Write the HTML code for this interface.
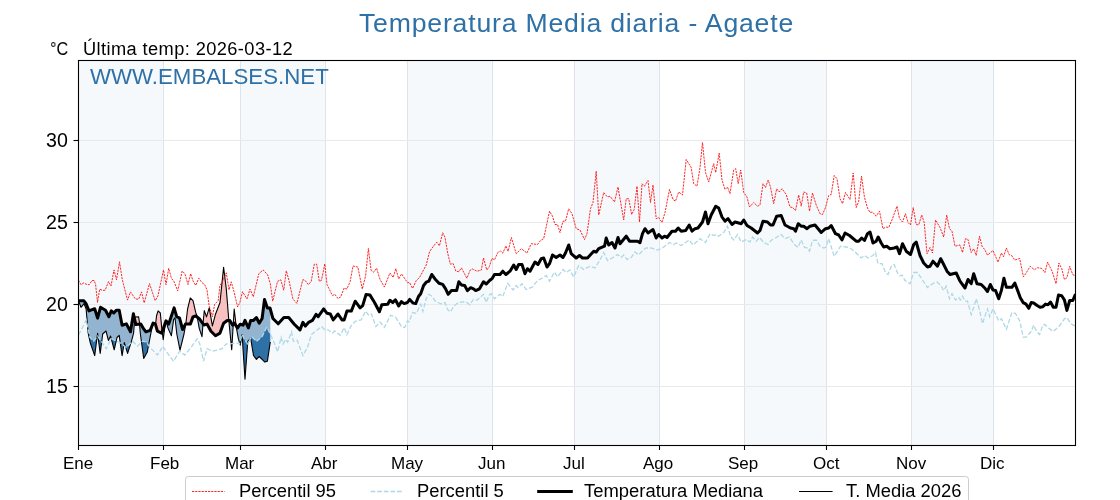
<!DOCTYPE html>
<html><head><meta charset="utf-8"><title>Temperatura Media diaria - Agaete</title>
<style>
html,body{margin:0;padding:0;background:#fff;}
body{width:1120px;height:500px;position:relative;overflow:hidden;font-family:"Liberation Sans",sans-serif;color:#000;}
.t{position:absolute;white-space:nowrap;line-height:1;transform-origin:0 50%;will-change:transform;}
.c{transform:translateX(-50%);}
.r{transform:translateX(-100%);}
</style></head><body>
<svg width="1120" height="500" viewBox="0 0 1120 500" style="position:absolute;left:0;top:0">
<rect x="0" y="0" width="1120" height="500" fill="#fff"/>
<rect x="78.5" y="60.5" width="84.9" height="385.0" fill="#f5f9fc"/>
<rect x="240.1" y="60.5" width="84.9" height="385.0" fill="#f5f9fc"/>
<rect x="407.2" y="60.5" width="84.9" height="385.0" fill="#f5f9fc"/>
<rect x="574.3" y="60.5" width="84.9" height="385.0" fill="#f5f9fc"/>
<rect x="744.1" y="60.5" width="82.2" height="385.0" fill="#f5f9fc"/>
<rect x="911.2" y="60.5" width="82.2" height="385.0" fill="#f5f9fc"/>
<line x1="163.5" y1="60.5" x2="163.5" y2="445.5" stroke="#dfe4eb" stroke-width="1"/>
<line x1="240.5" y1="60.5" x2="240.5" y2="445.5" stroke="#dfe4eb" stroke-width="1"/>
<line x1="325.5" y1="60.5" x2="325.5" y2="445.5" stroke="#dfe4eb" stroke-width="1"/>
<line x1="407.5" y1="60.5" x2="407.5" y2="445.5" stroke="#dfe4eb" stroke-width="1"/>
<line x1="492.5" y1="60.5" x2="492.5" y2="445.5" stroke="#dfe4eb" stroke-width="1"/>
<line x1="574.5" y1="60.5" x2="574.5" y2="445.5" stroke="#dfe4eb" stroke-width="1"/>
<line x1="659.5" y1="60.5" x2="659.5" y2="445.5" stroke="#dfe4eb" stroke-width="1"/>
<line x1="744.5" y1="60.5" x2="744.5" y2="445.5" stroke="#dfe4eb" stroke-width="1"/>
<line x1="826.5" y1="60.5" x2="826.5" y2="445.5" stroke="#dfe4eb" stroke-width="1"/>
<line x1="911.5" y1="60.5" x2="911.5" y2="445.5" stroke="#dfe4eb" stroke-width="1"/>
<line x1="993.5" y1="60.5" x2="993.5" y2="445.5" stroke="#dfe4eb" stroke-width="1"/>
<line x1="78.5" y1="140.5" x2="1075.5" y2="140.5" stroke="#e9e9ec" stroke-width="1"/>
<line x1="78.5" y1="222.5" x2="1075.5" y2="222.5" stroke="#e9e9ec" stroke-width="1"/>
<line x1="78.5" y1="304.5" x2="1075.5" y2="304.5" stroke="#e9e9ec" stroke-width="1"/>
<line x1="78.5" y1="386.5" x2="1075.5" y2="386.5" stroke="#e9e9ec" stroke-width="1"/>
<clipPath id="c"><rect x="78.5" y="60.5" width="997.0" height="385.0"/></clipPath>
<g clip-path="url(#c)">
<polygon points="78.5,300.8 79.0,300.8 79.5,300.8 80.0,300.8 80.5,300.8 81.0,300.8 81.5,300.8 82.0,300.8 82.5,300.8 83.0,300.8 83.5,300.8 83.9,300.8 84.0,300.9 84.5,301.6 85.0,302.2 85.5,302.9 86.0,303.6 86.1,303.7 86.2,303.9 86.5,304.7 87.0,305.9 87.5,307.2 88.0,308.4 88.2,308.9 88.5,309.7 89.0,310.9 89.5,310.7 90.0,310.5 90.4,310.4 90.5,310.3 91.0,310.1 91.5,309.9 92.0,309.7 92.5,309.5 93.0,309.4 93.5,309.2 93.7,309.1 94.0,309.0 94.5,308.8 94.7,308.7 95.0,309.7 95.5,311.3 96.0,312.9 96.5,314.5 97.0,316.2 97.5,317.8 97.6,318.1 98.0,316.6 98.5,314.7 99.0,312.9 99.5,311.0 100.0,309.2 100.2,308.4 100.5,307.3 101.0,307.6 101.2,307.7 101.5,307.9 102.0,308.2 102.5,308.5 102.7,308.6 103.0,308.8 103.5,309.0 104.0,309.3 104.5,309.6 105.0,309.9 105.5,310.2 106.0,311.2 106.2,311.5 106.5,312.1 107.0,313.1 107.5,314.0 108.0,315.0 108.4,315.7 108.5,315.9 108.9,316.7 109.0,316.5 109.5,315.2 110.0,314.0 110.5,312.8 110.6,312.6 111.0,311.6 111.2,311.1 111.3,310.9 111.5,311.1 112.0,311.5 112.5,311.9 113.0,312.3 113.5,312.7 113.8,313.0 114.0,312.8 114.2,312.6 114.5,312.2 115.0,311.7 115.5,311.1 116.0,310.5 116.2,310.3 116.3,310.2 116.5,310.2 117.0,310.2 117.5,310.2 118.0,310.2 118.5,310.2 119.0,310.2 119.2,310.2 119.5,311.8 120.0,314.4 120.5,317.0 121.0,319.6 121.5,322.2 122.0,324.8 122.1,325.3 122.5,325.2 123.0,325.0 123.5,324.8 124.0,324.7 124.3,324.6 124.5,324.5 125.0,324.4 125.5,324.2 126.0,324.0 126.2,324.0 126.4,323.9 126.5,324.1 127.0,325.1 127.5,326.0 127.6,326.2 128.0,327.0 128.5,327.9 129.0,328.9 129.5,329.9 130.0,330.8 130.5,331.8 131.0,328.7 131.5,325.6 132.0,322.5 132.5,319.4 133.0,316.3 133.4,313.8 133.5,314.2 133.6,314.7 134.0,316.5 134.5,318.8 134.8,317.0 135.0,317.0 135.5,317.0 135.8,316.9 136.0,316.9 136.5,316.9 137.0,316.9 137.5,316.9 138.0,316.8 138.5,316.8 138.6,316.8 139.0,319.4 139.4,322.0 139.5,323.2 140.0,324.0 140.3,324.0 140.5,323.9 140.8,323.9 141.0,324.2 141.5,325.1 142.0,326.0 142.5,326.8 143.0,327.7 143.5,328.6 143.7,328.9 144.0,329.3 144.5,330.0 145.0,330.6 145.5,331.3 145.9,331.8 146.0,331.8 146.2,331.7 146.5,331.6 147.0,331.4 147.3,331.3 147.5,331.2 148.0,331.1 148.5,330.9 149.0,330.7 149.5,330.5 150.0,330.4 150.2,330.3 150.5,329.6 150.9,328.6 151.0,328.3 151.5,327.1 152.0,325.8 152.4,324.8 152.5,324.6 153.0,323.3 153.1,323.1 153.5,323.2 154.0,323.4 154.5,323.6 155.0,323.8 155.3,323.9 155.5,324.0 155.6,324.0 156.0,320.6 156.5,316.3 156.6,315.5 157.0,314.3 157.4,313.0 157.5,312.7 158.0,311.2 158.1,310.9 158.5,311.3 159.0,311.8 159.5,312.2 160.0,312.7 160.3,313.0 160.5,315.1 161.0,320.2 161.5,325.4 161.7,327.5 162.0,329.9 162.5,330.9 163.0,329.5 163.2,328.9 163.5,328.0 164.0,326.6 164.5,325.1 164.6,324.8 165.0,323.7 165.5,322.2 166.0,320.8 166.5,321.4 167.0,322.0 167.5,322.6 168.0,323.2 168.2,323.5 168.5,323.9 168.7,324.1 169.0,323.2 169.5,321.7 170.0,320.2 170.5,318.7 171.0,317.2 171.4,316.0 171.5,315.7 172.0,314.2 172.5,312.7 173.0,311.2 173.5,309.7 173.6,309.4 174.0,308.2 174.1,307.9 174.5,309.2 175.0,310.9 175.5,312.6 176.0,314.2 176.5,315.9 176.8,316.9 177.0,317.0 177.5,317.1 178.0,317.3 178.5,317.5 179.0,317.6 179.5,317.8 179.7,318.6 180.0,319.7 180.5,321.6 181.0,323.5 181.5,325.3 182.0,327.2 182.5,329.1 182.6,329.5 183.0,328.7 183.5,327.8 184.0,326.8 184.5,325.8 184.7,325.5 185.0,324.9 185.4,324.1 185.5,324.1 185.8,324.1 186.0,322.4 186.5,318.2 187.0,313.9 187.5,309.6 187.6,308.8 188.0,307.2 188.5,305.2 189.0,303.2 189.5,301.2 190.0,299.2 190.3,298.0 190.5,298.2 191.0,298.7 191.5,299.2 192.0,299.7 192.5,300.2 193.0,300.7 193.5,302.9 194.0,305.0 194.5,307.2 195.0,309.4 195.5,311.5 195.7,312.4 196.0,313.2 196.5,314.6 197.0,316.0 197.2,317.1 197.5,317.4 198.0,317.7 198.5,318.1 199.0,318.5 199.3,318.7 199.5,319.0 199.7,319.3 200.0,319.7 200.5,320.4 201.0,321.1 201.5,321.8 202.0,322.5 202.5,323.2 202.9,323.7 203.0,323.9 203.5,318.8 203.8,315.7 204.0,313.7 204.3,310.6 204.5,311.2 205.0,312.6 205.5,314.0 206.0,315.5 206.5,316.9 207.0,315.2 207.2,314.6 207.5,313.6 208.0,311.9 208.5,310.2 209.0,308.6 209.2,307.9 209.5,309.6 210.0,312.4 210.5,315.2 211.0,318.0 211.5,320.8 212.0,323.6 212.2,324.8 212.4,325.9 212.5,325.5 213.0,323.6 213.5,321.7 214.0,319.9 214.5,318.0 215.0,316.1 215.5,314.2 216.0,312.9 216.5,311.6 217.0,310.3 217.2,309.8 217.5,309.0 218.0,307.7 218.5,306.4 219.0,305.1 219.5,303.8 220.0,302.5 220.5,297.6 221.0,292.8 221.5,287.9 222.0,283.0 222.2,281.1 222.5,278.1 223.0,273.2 223.5,268.4 223.6,267.4 224.0,270.6 224.5,274.6 225.0,278.6 225.5,282.6 226.0,286.6 226.3,289.0 226.5,291.5 227.0,297.8 227.2,300.3 227.5,304.1 228.0,310.4 228.5,316.6 228.8,320.4 229.0,320.4 229.5,320.4 229.8,320.4 230.0,320.7 230.5,321.6 231.0,322.4 231.5,323.3 231.7,323.6 232.0,324.1 232.5,324.9 232.6,325.1 233.0,324.7 233.5,320.4 234.0,312.3 234.2,309.0 234.5,311.6 235.0,315.9 235.5,320.2 236.0,324.5 236.4,326.3 236.5,326.5 237.0,327.3 237.4,328.0 237.5,327.9 238.0,327.2 238.3,326.8 238.5,326.5 239.0,325.8 239.3,325.4 239.5,325.1 240.0,324.5 240.2,324.2 240.5,324.3 241.0,324.4 241.5,324.6 242.0,324.8 242.1,324.8 242.5,324.9 243.0,325.1 243.1,325.1 243.5,324.1 244.0,322.9 244.5,321.6 245.0,320.4 245.5,321.5 246.0,322.6 246.5,323.8 247.0,324.9 247.5,326.0 247.8,326.7 248.0,327.1 248.4,328.0 248.5,327.7 249.0,326.0 249.5,324.4 250.0,322.7 250.5,321.1 250.7,320.4 251.0,320.4 251.5,320.4 251.6,320.4 252.0,320.4 252.5,320.4 253.0,320.4 253.5,320.4 254.0,319.9 254.5,319.4 255.0,318.9 255.5,318.4 256.0,317.9 256.4,317.5 256.5,317.7 257.0,318.7 257.5,319.7 258.0,320.8 258.5,321.8 259.0,322.8 259.2,323.2 259.5,322.7 260.0,321.9 260.5,321.1 261.0,320.3 261.5,319.5 262.0,318.7 262.1,318.5 262.5,315.3 263.0,311.4 263.5,307.4 264.0,303.5 264.5,299.5 264.9,300.7 265.0,301.0 265.5,302.4 266.0,303.9 266.5,305.4 266.8,306.2 267.0,306.8 267.4,308.0 267.5,308.0 268.0,308.0 268.5,308.0 269.0,308.0 269.5,308.0 270.0,308.0 270.3,309.1 270.3,309.1 270.0,308.0 269.5,308.0 269.0,308.0 268.5,308.0 268.0,308.0 267.5,308.0 267.4,308.0 267.0,306.8 266.8,306.2 266.5,305.4 266.0,303.9 265.5,302.4 265.0,301.0 264.9,300.7 264.5,299.5 264.0,303.5 263.5,307.4 263.0,311.4 262.5,315.3 262.1,318.5 262.0,318.7 261.5,319.5 261.0,320.3 260.5,321.1 260.0,321.9 259.5,322.7 259.2,323.2 259.0,322.8 258.5,321.8 258.0,320.8 257.5,319.7 257.0,318.7 256.5,317.7 256.4,317.5 256.0,317.9 255.5,318.4 255.0,318.9 254.5,319.4 254.0,319.9 253.5,320.4 253.0,320.4 252.5,320.4 252.0,320.4 251.6,320.4 251.5,320.4 251.0,320.4 250.7,320.4 250.5,321.1 250.0,322.7 249.5,324.4 249.0,326.0 248.5,327.7 248.4,328.0 248.0,327.1 247.8,326.7 247.5,326.0 247.0,324.9 246.5,323.8 246.0,322.6 245.5,321.5 245.0,320.4 244.5,321.6 244.0,322.9 243.5,324.1 243.1,325.1 243.0,325.1 242.5,324.9 242.1,324.8 242.0,324.8 241.5,324.6 241.0,324.4 240.5,324.3 240.2,324.2 240.0,324.5 239.5,325.1 239.3,325.4 239.0,325.8 238.5,326.5 238.3,326.8 238.0,327.2 237.5,327.9 237.4,328.0 237.0,327.3 236.5,326.5 236.4,326.3 236.0,325.7 235.5,324.9 235.0,324.0 234.5,323.2 234.2,323.5 234.0,323.7 233.5,324.2 233.0,324.7 232.6,325.1 232.5,324.9 232.0,324.1 231.7,323.6 231.5,323.3 231.0,322.4 230.5,321.6 230.0,320.7 229.8,320.4 229.5,320.4 229.0,320.4 228.8,320.4 228.5,320.4 228.0,320.5 227.5,320.5 227.2,320.5 227.0,320.6 226.5,321.0 226.3,321.2 226.0,321.4 225.5,321.8 225.0,322.1 224.5,322.5 224.0,322.9 223.6,323.2 223.5,323.5 223.0,324.8 222.5,326.2 222.2,327.1 222.0,327.6 221.5,329.0 221.0,330.4 220.5,331.7 220.0,333.1 219.5,333.4 219.0,333.7 218.5,334.0 218.0,334.3 217.5,334.6 217.2,334.8 217.0,334.9 216.5,335.2 216.0,335.5 215.5,335.8 215.0,335.3 214.5,334.8 214.0,334.3 213.5,333.8 213.0,333.3 212.5,332.8 212.4,332.7 212.2,332.5 212.0,332.3 211.5,331.8 211.0,331.3 210.5,330.4 210.0,329.5 209.5,328.6 209.2,328.1 209.0,327.7 208.5,326.8 208.0,325.9 207.5,325.0 207.2,324.5 207.0,324.1 206.5,324.2 206.0,324.4 205.5,324.5 205.0,324.7 204.5,324.8 204.3,324.9 204.0,324.9 203.8,325.0 203.5,324.6 203.0,323.9 202.9,323.7 202.5,323.2 202.0,322.5 201.5,321.8 201.0,321.1 200.5,320.4 200.0,319.7 199.7,319.3 199.5,319.0 199.3,318.7 199.0,318.5 198.5,318.1 198.0,317.7 197.5,317.4 197.2,317.1 197.0,317.0 196.5,316.6 196.0,316.2 195.7,316.0 195.5,316.1 195.0,316.2 194.5,316.4 194.0,316.6 193.5,316.7 193.0,316.9 192.5,318.2 192.0,319.6 191.5,320.9 191.0,322.2 190.5,323.6 190.3,324.1 190.0,324.1 189.5,324.1 189.0,324.1 188.5,324.1 188.0,324.1 187.6,324.1 187.5,324.1 187.0,324.1 186.5,324.1 186.0,324.1 185.8,324.1 185.5,324.1 185.4,324.1 185.0,324.9 184.7,325.5 184.5,325.8 184.0,326.8 183.5,327.8 183.0,328.7 182.6,329.5 182.5,329.1 182.0,327.2 181.5,325.3 181.0,323.5 180.5,321.6 180.0,319.7 179.7,318.6 179.5,317.8 179.0,317.6 178.5,317.5 178.0,317.3 177.5,317.1 177.0,317.0 176.8,316.9 176.5,315.9 176.0,314.2 175.5,312.6 175.0,310.9 174.5,309.2 174.1,307.9 174.0,308.2 173.6,309.4 173.5,309.7 173.0,311.2 172.5,312.7 172.0,314.2 171.5,315.7 171.4,316.0 171.0,317.2 170.5,318.7 170.0,320.2 169.5,321.7 169.0,323.2 168.7,324.1 168.5,323.9 168.2,323.5 168.0,323.2 167.5,322.6 167.0,322.0 166.5,321.4 166.0,320.8 165.5,322.2 165.0,323.7 164.6,324.8 164.5,325.1 164.0,326.6 163.5,328.0 163.2,328.9 163.0,329.5 162.5,330.9 162.0,332.3 161.7,333.2 161.5,333.1 161.0,332.9 160.5,332.6 160.3,332.5 160.0,332.4 159.5,332.1 159.0,331.9 158.5,331.6 158.1,331.4 158.0,331.4 157.5,331.1 157.4,331.1 157.0,329.7 156.6,328.4 156.5,328.0 156.0,326.3 155.6,324.9 155.5,324.6 155.3,323.9 155.0,323.8 154.5,323.6 154.0,323.4 153.5,323.2 153.1,323.1 153.0,323.3 152.5,324.6 152.4,324.8 152.0,325.8 151.5,327.1 151.0,328.3 150.9,328.6 150.5,329.6 150.2,330.3 150.0,330.4 149.5,330.5 149.0,330.7 148.5,330.9 148.0,331.1 147.5,331.2 147.3,331.3 147.0,331.4 146.5,331.6 146.2,331.7 146.0,331.8 145.9,331.8 145.5,331.3 145.0,330.6 144.5,330.0 144.0,329.3 143.7,328.9 143.5,328.6 143.0,327.7 142.5,326.8 142.0,326.0 141.5,325.1 141.0,324.2 140.8,323.9 140.5,323.9 140.3,324.0 140.0,324.0 139.5,324.1 139.4,324.1 139.0,324.2 138.6,324.2 138.5,324.2 138.0,324.3 137.5,324.4 137.0,324.4 136.5,324.5 136.0,324.6 135.8,324.6 135.5,323.2 135.0,321.0 134.8,320.1 134.5,318.8 134.0,316.5 133.6,314.7 133.5,314.2 133.4,313.8 133.0,316.3 132.5,319.4 132.0,322.5 131.5,325.6 131.0,328.7 130.5,331.8 130.0,330.8 129.5,329.9 129.0,328.9 128.5,327.9 128.0,327.0 127.6,326.2 127.5,326.0 127.0,325.1 126.5,324.1 126.4,323.9 126.2,324.0 126.0,324.0 125.5,324.2 125.0,324.4 124.5,324.5 124.3,324.6 124.0,324.7 123.5,324.8 123.0,325.0 122.5,325.2 122.1,325.3 122.0,324.8 121.5,322.2 121.0,319.6 120.5,317.0 120.0,314.4 119.5,311.8 119.2,310.2 119.0,310.2 118.5,310.2 118.0,310.2 117.5,310.2 117.0,310.2 116.5,310.2 116.3,310.2 116.2,310.3 116.0,310.5 115.5,311.1 115.0,311.7 114.5,312.2 114.2,312.6 114.0,312.8 113.8,313.0 113.5,312.7 113.0,312.3 112.5,311.9 112.0,311.5 111.5,311.1 111.3,310.9 111.2,311.1 111.0,311.6 110.6,312.6 110.5,312.8 110.0,314.0 109.5,315.2 109.0,316.5 108.9,316.7 108.5,315.9 108.4,315.7 108.0,315.0 107.5,314.0 107.0,313.1 106.5,312.1 106.2,311.5 106.0,311.2 105.5,310.2 105.0,309.9 104.5,309.6 104.0,309.3 103.5,309.0 103.0,308.8 102.7,308.6 102.5,308.5 102.0,308.2 101.5,307.9 101.2,307.7 101.0,307.6 100.5,307.3 100.2,308.4 100.0,309.2 99.5,311.0 99.0,312.9 98.5,314.7 98.0,316.6 97.6,318.1 97.5,317.8 97.0,316.2 96.5,314.5 96.0,312.9 95.5,311.3 95.0,309.7 94.7,308.7 94.5,308.8 94.0,309.0 93.7,309.1 93.5,309.2 93.0,309.4 92.5,309.5 92.0,309.7 91.5,309.9 91.0,310.1 90.5,310.3 90.4,310.4 90.0,310.5 89.5,310.7 89.0,310.9 88.5,309.7 88.2,308.9 88.0,308.4 87.5,307.2 87.0,305.9 86.5,304.7 86.2,303.9 86.1,303.7 86.0,303.6 85.5,302.9 85.0,302.2 84.5,301.6 84.0,300.9 83.9,300.8 83.5,300.8 83.0,300.8 82.5,300.8 82.0,300.8 81.5,300.8 81.0,300.8 80.5,300.8 80.0,300.8 79.5,300.8 79.0,300.8 78.5,300.8" fill="#f7c0c1"/>
<polygon points="78.5,300.8 79.0,300.8 79.5,300.8 80.0,300.8 80.5,300.8 81.0,300.8 81.5,300.8 82.0,300.8 82.5,300.8 83.0,300.8 83.5,300.8 83.9,300.8 84.0,300.9 84.5,301.6 85.0,302.2 85.5,302.9 86.0,303.6 86.1,303.7 86.2,303.9 86.5,304.7 87.0,305.9 87.5,307.2 88.0,308.4 88.2,308.9 88.5,309.7 89.0,310.9 89.5,310.7 90.0,310.5 90.4,310.4 90.5,310.3 91.0,310.1 91.5,309.9 92.0,309.7 92.5,309.5 93.0,309.4 93.5,309.2 93.7,309.1 94.0,309.0 94.5,308.8 94.7,308.7 95.0,309.7 95.5,311.3 96.0,312.9 96.5,314.5 97.0,316.2 97.5,317.8 97.6,318.1 98.0,316.6 98.5,314.7 99.0,312.9 99.5,311.0 100.0,309.2 100.2,308.4 100.5,307.3 101.0,307.6 101.2,307.7 101.5,307.9 102.0,308.2 102.5,308.5 102.7,308.6 103.0,308.8 103.5,309.0 104.0,309.3 104.5,309.6 105.0,309.9 105.5,310.2 106.0,311.2 106.2,311.5 106.5,312.1 107.0,313.1 107.5,314.0 108.0,315.0 108.4,315.7 108.5,315.9 108.9,316.7 109.0,316.5 109.5,315.2 110.0,314.0 110.5,312.8 110.6,312.6 111.0,311.6 111.2,311.1 111.3,310.9 111.5,311.1 112.0,311.5 112.5,311.9 113.0,312.3 113.5,312.7 113.8,313.0 114.0,312.8 114.2,312.6 114.5,312.2 115.0,311.7 115.5,311.1 116.0,310.5 116.2,310.3 116.3,310.2 116.5,310.2 117.0,310.2 117.5,310.2 118.0,310.2 118.5,310.2 119.0,310.2 119.2,310.2 119.5,311.8 120.0,314.4 120.5,317.0 121.0,319.6 121.5,322.2 122.0,324.8 122.1,325.3 122.5,325.2 123.0,325.0 123.5,324.8 124.0,324.7 124.3,324.6 124.5,324.5 125.0,324.4 125.5,324.2 126.0,324.0 126.2,324.0 126.4,323.9 126.5,324.1 127.0,325.1 127.5,326.0 127.6,326.2 128.0,327.0 128.5,327.9 129.0,328.9 129.5,329.9 130.0,330.8 130.5,331.8 131.0,328.7 131.5,325.6 132.0,322.5 132.5,319.4 133.0,316.3 133.4,313.8 133.5,314.2 133.6,314.7 134.0,316.5 134.5,318.8 134.8,320.1 135.0,321.0 135.5,323.2 135.8,324.6 136.0,324.6 136.5,324.5 137.0,324.4 137.5,324.4 138.0,324.3 138.5,324.2 138.6,324.2 139.0,324.2 139.4,324.1 139.5,324.1 140.0,324.0 140.3,324.0 140.5,323.9 140.8,323.9 141.0,324.2 141.5,325.1 142.0,326.0 142.5,326.8 143.0,327.7 143.5,328.6 143.7,328.9 144.0,329.3 144.5,330.0 145.0,330.6 145.5,331.3 145.9,331.8 146.0,331.8 146.2,331.7 146.5,331.6 147.0,331.4 147.3,331.3 147.5,331.2 148.0,331.1 148.5,330.9 149.0,330.7 149.5,330.5 150.0,330.4 150.2,330.3 150.5,329.6 150.9,328.6 151.0,328.3 151.5,327.1 152.0,325.8 152.4,324.8 152.5,324.6 153.0,323.3 153.1,323.1 153.5,323.2 154.0,323.4 154.5,323.6 155.0,323.8 155.3,323.9 155.5,324.6 155.6,324.9 156.0,326.3 156.5,328.0 156.6,328.4 157.0,329.7 157.4,331.1 157.5,331.1 158.0,331.4 158.1,331.4 158.5,331.6 159.0,331.9 159.5,332.1 160.0,332.4 160.3,332.5 160.5,332.6 161.0,332.9 161.5,333.1 161.7,333.2 162.0,332.3 162.5,330.9 163.0,329.5 163.2,328.9 163.5,328.0 164.0,326.6 164.5,325.1 164.6,324.8 165.0,323.7 165.5,322.2 166.0,320.8 166.5,321.4 167.0,322.0 167.5,322.6 168.0,323.2 168.2,323.5 168.5,323.9 168.7,324.1 169.0,323.2 169.5,321.7 170.0,320.2 170.5,318.7 171.0,317.2 171.4,316.0 171.5,315.7 172.0,314.2 172.5,312.7 173.0,311.2 173.5,309.7 173.6,309.4 174.0,308.2 174.1,307.9 174.5,309.2 175.0,310.9 175.5,312.6 176.0,314.2 176.5,315.9 176.8,316.9 177.0,317.0 177.5,317.1 178.0,317.3 178.5,317.5 179.0,317.6 179.5,317.8 179.7,318.6 180.0,319.7 180.5,321.6 181.0,323.5 181.5,325.3 182.0,327.2 182.5,329.1 182.6,329.5 183.0,328.7 183.5,327.8 184.0,326.8 184.5,325.8 184.7,325.5 185.0,324.9 185.4,324.1 185.5,324.1 185.8,324.1 186.0,324.1 186.5,324.1 187.0,324.1 187.5,324.1 187.6,324.1 188.0,324.1 188.5,324.1 189.0,324.1 189.5,324.1 190.0,324.1 190.3,324.1 190.5,323.6 191.0,322.2 191.5,320.9 192.0,319.6 192.5,318.2 193.0,316.9 193.5,316.7 194.0,316.6 194.5,316.4 195.0,316.2 195.5,316.1 195.7,316.0 196.0,316.2 196.5,316.6 197.0,317.0 197.2,317.1 197.5,317.4 198.0,317.7 198.5,318.1 199.0,318.5 199.3,318.7 199.5,319.0 199.7,319.3 200.0,319.7 200.5,320.4 201.0,321.1 201.5,321.8 202.0,322.5 202.5,323.2 202.9,323.7 203.0,323.9 203.5,324.6 203.8,325.0 204.0,324.9 204.3,324.9 204.5,324.8 205.0,324.7 205.5,324.5 206.0,324.4 206.5,324.2 207.0,324.1 207.2,324.5 207.5,325.0 208.0,325.9 208.5,326.8 209.0,327.7 209.2,328.1 209.5,328.6 210.0,329.5 210.5,330.4 211.0,331.3 211.5,331.8 212.0,332.3 212.2,332.5 212.4,332.7 212.5,332.8 213.0,333.3 213.5,333.8 214.0,334.3 214.5,334.8 215.0,335.3 215.5,335.8 216.0,335.5 216.5,335.2 217.0,334.9 217.2,334.8 217.5,334.6 218.0,334.3 218.5,334.0 219.0,333.7 219.5,333.4 220.0,333.1 220.5,331.7 221.0,330.4 221.5,329.0 222.0,327.6 222.2,327.1 222.5,326.2 223.0,324.8 223.5,323.5 223.6,323.2 224.0,322.9 224.5,322.5 225.0,322.1 225.5,321.8 226.0,321.4 226.3,321.2 226.5,321.0 227.0,320.6 227.2,320.5 227.5,320.5 228.0,320.5 228.5,320.4 228.8,320.4 229.0,320.4 229.5,320.4 229.8,320.4 230.0,320.7 230.5,321.6 231.0,322.4 231.5,323.3 231.7,323.6 232.0,324.1 232.5,324.9 232.6,325.1 233.0,324.7 233.5,324.2 234.0,323.7 234.2,323.5 234.5,323.2 235.0,324.0 235.5,324.9 236.0,325.7 236.4,326.3 236.5,326.5 237.0,327.3 237.4,328.0 237.5,327.9 238.0,327.2 238.3,326.8 238.5,326.5 239.0,325.8 239.3,325.4 239.5,325.1 240.0,324.5 240.2,324.2 240.5,324.3 241.0,324.4 241.5,324.6 242.0,324.8 242.1,324.8 242.5,324.9 243.0,325.1 243.1,325.1 243.5,324.1 244.0,322.9 244.5,321.6 245.0,320.4 245.5,321.5 246.0,322.6 246.5,323.8 247.0,324.9 247.5,326.0 247.8,326.7 248.0,327.1 248.4,328.0 248.5,327.7 249.0,326.0 249.5,324.4 250.0,322.7 250.5,321.1 250.7,320.4 251.0,320.4 251.5,320.4 251.6,320.4 252.0,320.4 252.5,320.4 253.0,320.4 253.5,320.4 254.0,319.9 254.5,319.4 255.0,318.9 255.5,318.4 256.0,317.9 256.4,317.5 256.5,317.7 257.0,318.7 257.5,319.7 258.0,320.8 258.5,321.8 259.0,322.8 259.2,323.2 259.5,322.7 260.0,321.9 260.5,321.1 261.0,320.3 261.5,319.5 262.0,318.7 262.1,318.5 262.5,315.3 263.0,311.4 263.5,307.4 264.0,303.5 264.5,299.5 264.9,300.7 265.0,301.0 265.5,302.4 266.0,303.9 266.5,305.4 266.8,306.2 267.0,306.8 267.4,308.0 267.5,308.0 268.0,308.0 268.5,308.0 269.0,308.0 269.5,308.0 270.0,308.0 270.3,309.1 270.3,334.0 270.0,333.4 269.5,332.4 269.0,331.4 268.5,330.4 268.0,329.4 267.5,328.4 267.4,328.2 267.0,327.4 266.8,327.0 266.5,327.6 266.0,328.6 265.5,329.6 265.0,330.6 264.9,330.8 264.5,331.6 264.0,332.7 263.5,333.7 263.0,334.7 262.5,335.7 262.1,336.5 262.0,336.6 261.5,337.0 261.0,337.4 260.5,337.8 260.0,338.3 259.5,338.7 259.2,338.9 259.0,339.1 258.5,339.5 258.0,340.0 257.5,340.4 257.0,340.8 256.5,341.2 256.4,341.3 256.0,340.9 255.5,340.4 255.0,339.9 254.5,339.4 254.0,338.9 253.5,338.4 253.0,337.9 252.5,337.4 252.0,336.9 251.6,336.5 251.5,336.7 251.0,337.7 250.7,338.3 250.5,338.6 250.0,339.1 249.5,339.6 249.0,340.1 248.5,340.6 248.4,340.7 248.0,341.1 247.8,341.3 247.5,343.7 247.0,343.0 246.5,342.3 246.0,341.7 245.5,341.0 245.0,340.3 244.5,339.3 244.0,338.3 243.5,337.4 243.1,336.6 243.0,336.4 242.5,335.4 242.1,334.6 242.0,334.9 241.5,336.6 241.0,338.3 240.5,340.0 240.2,341.0 240.0,341.7 239.5,342.6 239.3,341.9 239.0,340.9 238.5,339.1 238.3,338.4 238.0,336.8 237.5,334.0 237.4,333.5 237.0,331.3 236.5,328.5 236.4,328.0 236.0,325.7 235.5,324.9 235.0,324.0 234.5,323.2 234.2,323.5 234.0,323.7 233.5,324.2 233.0,328.6 232.6,335.1 232.5,336.7 232.0,343.6 231.7,343.7 231.5,343.7 231.0,342.7 230.5,337.6 230.0,332.6 229.8,330.5 229.5,327.5 229.0,322.4 228.8,320.4 228.5,320.4 228.0,320.5 227.5,320.5 227.2,320.5 227.0,320.6 226.5,321.0 226.3,321.2 226.0,321.4 225.5,321.8 225.0,322.1 224.5,322.5 224.0,322.9 223.6,323.2 223.5,323.5 223.0,324.8 222.5,326.2 222.2,327.1 222.0,327.6 221.5,329.0 221.0,330.4 220.5,331.7 220.0,333.1 219.5,333.4 219.0,333.7 218.5,334.0 218.0,334.3 217.5,334.6 217.2,334.8 217.0,334.9 216.5,335.2 216.0,335.5 215.5,335.8 215.0,335.3 214.5,334.8 214.0,334.3 213.5,333.8 213.0,333.3 212.5,332.8 212.4,332.7 212.2,332.5 212.0,332.3 211.5,331.8 211.0,331.3 210.5,330.4 210.0,329.5 209.5,328.6 209.2,328.1 209.0,327.7 208.5,326.8 208.0,325.9 207.5,325.0 207.2,324.5 207.0,324.1 206.5,324.2 206.0,324.4 205.5,324.5 205.0,324.7 204.5,324.8 204.3,324.9 204.0,324.9 203.8,325.0 203.5,324.6 203.0,324.0 202.9,325.0 202.5,330.2 202.0,336.7 201.5,335.2 201.0,333.7 200.5,332.2 200.0,330.7 199.7,329.8 199.5,329.2 199.3,328.6 199.0,327.0 198.5,324.2 198.0,321.5 197.5,318.7 197.2,317.1 197.0,317.0 196.5,316.6 196.0,316.2 195.7,316.0 195.5,316.1 195.0,316.2 194.5,316.4 194.0,316.6 193.5,316.7 193.0,316.9 192.5,318.2 192.0,319.6 191.5,320.9 191.0,322.2 190.5,323.6 190.3,324.1 190.0,324.1 189.5,324.1 189.0,324.1 188.5,324.1 188.0,324.1 187.6,324.1 187.5,324.1 187.0,324.1 186.5,324.1 186.0,324.1 185.8,324.1 185.5,325.8 185.4,326.3 185.0,328.5 184.7,330.2 184.5,331.2 184.0,334.0 183.5,336.0 183.0,338.1 182.6,339.7 182.5,340.1 182.0,342.1 181.5,344.1 181.0,346.1 180.5,348.2 180.0,350.2 179.7,348.7 179.5,347.7 179.0,345.1 178.5,342.6 178.0,340.1 177.5,337.5 177.0,335.0 176.8,334.0 176.5,331.3 176.0,326.8 175.5,322.3 175.0,317.8 174.5,318.4 174.1,319.0 174.0,319.1 173.6,319.6 173.5,320.3 173.0,324.0 172.5,327.7 172.0,331.4 171.5,335.1 171.4,335.8 171.0,334.9 170.5,333.8 170.0,332.7 169.5,331.5 169.0,330.4 168.7,329.7 168.5,329.3 168.2,328.6 168.0,328.0 167.5,326.3 167.0,324.7 166.5,323.1 166.0,321.5 165.5,324.1 165.0,326.8 164.6,328.9 164.5,329.7 164.0,333.5 163.5,337.4 163.2,339.7 163.0,338.1 162.5,334.0 162.0,332.3 161.7,333.2 161.5,333.1 161.0,332.9 160.5,332.6 160.3,332.5 160.0,332.4 159.5,332.1 159.0,331.9 158.5,331.6 158.1,331.4 158.0,331.4 157.5,331.1 157.4,331.1 157.0,329.7 156.6,328.4 156.5,328.0 156.0,326.3 155.6,324.9 155.5,324.6 155.3,324.1 155.0,324.2 154.5,324.4 154.0,324.6 153.5,324.9 153.1,325.0 153.0,325.1 152.5,325.3 152.4,325.3 152.0,327.4 151.5,330.0 151.0,332.7 150.9,333.2 150.5,335.3 150.2,336.9 150.0,337.9 149.5,340.5 149.0,343.1 148.5,345.3 148.0,344.6 147.5,343.9 147.3,343.6 147.0,343.2 146.5,342.4 146.2,342.0 146.0,342.0 145.9,341.9 145.5,341.8 145.0,341.7 144.5,341.6 144.0,341.5 143.7,341.5 143.5,341.4 143.0,341.3 142.5,341.2 142.0,341.7 141.5,342.1 141.0,338.4 140.8,336.9 140.5,334.7 140.3,333.2 140.0,329.5 139.5,324.1 139.4,324.1 139.0,324.2 138.6,324.2 138.5,324.2 138.0,324.3 137.5,324.4 137.0,324.4 136.5,324.5 136.0,324.6 135.8,324.6 135.5,323.2 135.0,321.0 134.8,320.1 134.5,321.1 134.0,327.8 133.6,333.2 133.5,333.6 133.4,334.0 133.0,335.5 132.5,337.4 132.0,339.3 131.5,341.2 131.0,342.7 130.5,343.2 130.0,343.7 129.5,344.2 129.0,344.7 128.5,345.2 128.0,345.7 127.6,346.1 127.5,346.2 127.0,346.7 126.5,347.2 126.4,347.3 126.2,347.5 126.0,347.3 125.5,346.5 125.0,344.9 124.5,343.3 124.3,342.6 124.0,344.4 123.5,345.3 123.0,344.9 122.5,344.5 122.1,344.2 122.0,344.1 121.5,343.7 121.0,343.3 120.5,342.9 120.0,341.0 119.5,337.5 119.2,335.4 119.0,335.6 118.5,336.1 118.0,336.5 117.5,337.0 117.0,337.5 116.5,339.7 116.3,340.6 116.2,341.0 116.0,341.1 115.5,340.8 115.0,340.6 114.5,340.3 114.2,340.2 114.0,340.1 113.8,340.0 113.5,339.8 113.0,339.6 112.5,339.3 112.0,339.1 111.5,338.8 111.3,338.8 111.2,338.4 111.0,337.6 110.6,336.1 110.5,336.3 110.0,337.3 109.5,338.2 109.0,339.2 108.9,339.4 108.5,340.2 108.4,340.4 108.0,338.8 107.5,336.9 107.0,334.9 106.5,333.0 106.2,331.8 106.0,331.0 105.5,331.5 105.0,331.9 104.5,332.4 104.0,332.8 103.5,333.3 103.0,333.7 102.7,334.0 102.5,335.6 102.0,339.4 101.5,341.6 101.2,341.2 101.0,340.9 100.5,340.3 100.2,339.8 100.0,339.6 99.5,338.9 99.0,338.2 98.5,337.6 98.0,336.3 97.6,333.2 97.5,334.0 97.0,336.9 96.5,337.5 96.0,338.2 95.5,338.8 95.0,339.5 94.7,339.9 94.5,340.1 94.0,340.8 93.7,341.2 93.5,341.0 93.0,340.5 92.5,340.0 92.0,339.5 91.5,339.0 91.0,338.5 90.5,338.0 90.4,337.9 90.0,337.5 89.5,335.2 89.0,332.9 88.5,330.6 88.2,329.2 88.0,328.3 87.5,325.0 87.0,319.2 86.5,313.4 86.2,309.9 86.1,308.7 86.0,308.5 85.5,307.3 85.0,306.1 84.5,304.9 84.0,303.7 83.9,303.8 83.5,304.3 83.0,304.9 82.5,305.5 82.0,306.1 81.5,306.7 81.0,307.3 80.5,306.0 80.0,304.7 79.5,303.4 79.0,302.1 78.5,300.8" fill="#92b4d1"/>
<polygon points="78.5,335.0 79.0,334.1 79.5,333.1 80.0,332.2 80.5,331.2 81.0,330.3 81.5,329.4 82.0,328.4 82.5,327.5 83.0,326.5 83.5,325.5 83.9,324.7 84.0,324.5 84.5,323.4 85.0,322.4 85.5,321.4 86.0,320.4 86.1,320.2 86.2,320.0 86.5,321.4 87.0,323.7 87.5,326.0 88.0,328.3 88.2,329.2 88.5,330.6 89.0,332.9 89.5,335.2 90.0,337.5 90.4,337.9 90.5,338.0 91.0,338.5 91.5,339.0 92.0,339.5 92.5,340.0 93.0,340.5 93.5,341.0 93.7,341.2 94.0,340.8 94.5,340.1 94.7,339.9 95.0,339.5 95.5,338.8 96.0,338.2 96.5,337.5 97.0,336.9 97.5,336.2 97.6,336.3 98.0,336.9 98.5,337.6 99.0,338.2 99.5,338.9 100.0,339.6 100.2,339.8 100.5,340.3 101.0,340.9 101.2,341.2 101.5,341.6 102.0,342.4 102.5,343.1 102.7,343.4 103.0,343.9 103.5,344.6 104.0,345.4 104.5,346.1 105.0,346.9 105.5,347.6 106.0,348.4 106.2,348.7 106.5,348.1 107.0,347.1 107.5,346.1 108.0,345.1 108.4,344.3 108.5,344.1 108.9,343.3 109.0,343.1 109.5,342.1 110.0,341.1 110.5,340.1 110.6,339.9 111.0,339.1 111.2,338.7 111.3,338.8 111.5,338.8 112.0,339.1 112.5,339.3 113.0,339.6 113.5,339.8 113.8,340.0 114.0,340.1 114.2,340.2 114.5,340.3 115.0,340.6 115.5,340.8 116.0,341.1 116.2,341.2 116.3,341.2 116.5,341.3 117.0,341.5 117.5,341.6 118.0,341.8 118.5,342.0 119.0,342.2 119.2,342.2 119.5,342.3 120.0,342.5 120.5,342.9 121.0,343.3 121.5,343.7 122.0,344.1 122.1,344.2 122.5,344.5 123.0,344.9 123.5,345.3 124.0,345.7 124.3,346.0 124.5,346.1 125.0,346.5 125.5,346.9 126.0,347.3 126.2,347.5 126.4,347.3 126.5,347.2 127.0,346.7 127.5,346.2 127.6,346.1 128.0,345.7 128.5,345.2 129.0,344.7 129.5,344.2 130.0,343.7 130.5,343.2 131.0,342.7 131.5,342.2 132.0,341.7 132.5,341.2 133.0,341.7 133.4,342.1 133.5,342.2 133.6,342.3 134.0,342.7 134.5,343.2 134.8,343.5 135.0,343.7 135.5,344.2 135.8,344.5 136.0,344.7 136.5,345.2 137.0,345.7 137.5,346.2 138.0,345.7 138.5,345.2 138.6,345.1 139.0,344.7 139.4,344.3 139.5,344.2 140.0,343.7 140.3,343.4 140.5,343.2 140.8,342.9 141.0,342.7 141.5,342.2 142.0,341.7 142.5,341.2 143.0,341.3 143.5,341.4 143.7,341.5 144.0,341.5 144.5,341.6 145.0,341.7 145.5,341.8 145.9,341.9 146.0,342.0 146.2,342.0 146.5,342.4 147.0,343.2 147.3,343.6 147.5,343.9 148.0,344.6 148.5,345.3 149.0,346.1 149.5,346.8 150.0,347.5 150.2,347.7 150.5,348.0 150.9,348.4 151.0,348.5 151.5,349.0 152.0,349.5 152.4,349.9 152.5,350.0 153.0,350.5 153.1,350.6 153.5,351.0 154.0,351.5 154.5,352.0 155.0,352.5 155.3,352.8 155.5,353.0 155.6,353.1 156.0,353.5 156.5,354.0 156.6,354.1 157.0,354.5 157.4,354.9 157.5,355.0 158.0,354.2 158.1,354.0 158.5,353.4 159.0,352.6 159.5,351.8 160.0,351.0 160.3,350.5 160.5,350.2 161.0,349.4 161.5,348.6 161.7,348.3 162.0,347.8 162.5,347.0 163.0,346.2 163.2,346.5 163.5,347.0 164.0,347.9 164.5,348.7 164.6,348.9 165.0,349.5 165.5,350.4 166.0,351.2 166.5,351.9 167.0,352.5 167.5,353.2 168.0,353.9 168.2,354.1 168.5,354.5 168.7,354.8 169.0,355.2 169.5,355.9 170.0,356.5 170.5,357.2 171.0,357.9 171.4,358.4 171.5,358.5 172.0,359.2 172.5,359.9 173.0,360.5 173.5,361.2 173.6,361.0 174.0,360.4 174.1,360.2 174.5,359.6 175.0,358.8 175.5,358.0 176.0,357.2 176.5,356.4 176.8,355.9 177.0,355.6 177.5,354.7 178.0,353.9 178.5,353.1 179.0,352.3 179.5,351.5 179.7,351.2 180.0,351.4 180.5,351.8 181.0,352.2 181.5,352.6 182.0,352.9 182.5,353.3 182.6,353.4 183.0,353.7 183.5,354.1 184.0,354.5 184.5,354.8 184.7,355.0 185.0,354.6 185.4,354.2 185.5,354.0 185.8,353.7 186.0,353.5 186.5,352.9 187.0,352.3 187.5,351.7 187.6,351.5 188.0,351.1 188.5,350.5 189.0,349.9 189.5,349.3 190.0,348.7 190.3,348.3 190.5,348.1 191.0,347.5 191.5,346.8 192.0,346.1 192.5,345.4 193.0,344.7 193.5,344.0 194.0,343.2 194.5,342.5 195.0,341.8 195.5,341.1 195.7,340.8 196.0,340.4 196.5,339.7 197.0,339.0 197.2,338.7 197.5,339.3 198.0,340.3 198.5,341.3 199.0,342.3 199.3,342.9 199.5,343.3 199.7,343.7 200.0,345.1 200.5,347.4 201.0,349.7 201.5,352.0 202.0,354.3 202.5,356.6 202.9,358.4 203.0,358.9 203.5,361.2 203.8,360.2 204.0,359.5 204.3,358.5 204.5,357.8 205.0,356.1 205.5,354.4 206.0,352.8 206.5,351.1 207.0,349.4 207.2,348.7 207.5,348.9 208.0,349.1 208.5,349.4 209.0,349.6 209.2,349.7 209.5,349.9 210.0,350.1 210.5,350.4 211.0,350.6 211.5,350.9 212.0,351.1 212.2,351.2 212.4,351.2 212.5,351.1 213.0,351.0 213.5,350.9 214.0,350.8 214.5,350.6 215.0,350.5 215.5,350.4 216.0,350.3 216.5,350.2 217.0,350.0 217.2,350.0 217.5,349.9 218.0,349.8 218.5,349.7 219.0,349.5 219.5,349.4 220.0,349.3 220.5,349.1 221.0,349.0 221.5,348.9 222.0,348.8 222.2,348.7 222.5,348.3 223.0,347.7 223.5,347.1 223.6,347.0 224.0,346.5 224.5,345.9 225.0,345.3 225.5,344.7 226.0,344.1 226.3,344.1 226.5,344.1 227.0,344.0 227.2,344.0 227.5,344.0 228.0,343.9 228.5,343.9 228.8,343.9 229.0,343.9 229.5,343.8 229.8,343.8 230.0,343.8 230.5,343.7 231.0,343.7 231.5,343.7 231.7,343.7 232.0,343.6 232.5,343.6 232.6,343.6 233.0,343.5 233.5,343.5 234.0,343.5 234.2,343.5 234.5,343.4 235.0,343.4 235.5,343.4 236.0,343.3 236.4,343.3 236.5,343.3 237.0,343.2 237.4,343.2 237.5,343.2 238.0,343.5 238.3,343.6 238.5,343.7 239.0,344.0 239.3,344.1 239.5,343.4 240.0,341.7 240.2,341.0 240.5,340.0 241.0,338.3 241.5,336.6 242.0,334.9 242.1,334.6 242.5,335.4 243.0,336.4 243.1,336.6 243.5,337.4 244.0,338.3 244.5,339.3 245.0,340.3 245.5,341.0 246.0,341.7 246.5,342.3 247.0,343.0 247.5,343.7 247.8,344.1 248.0,343.7 248.4,342.9 248.5,342.7 249.0,341.7 249.5,340.7 250.0,339.7 250.5,338.7 250.7,338.3 251.0,337.7 251.5,336.7 251.6,336.5 252.0,336.9 252.5,337.4 253.0,337.9 253.5,338.4 254.0,338.9 254.5,339.4 255.0,339.9 255.5,340.4 256.0,340.9 256.4,341.3 256.5,341.2 257.0,340.8 257.5,340.4 258.0,340.0 258.5,339.5 259.0,339.1 259.2,338.9 259.5,338.7 260.0,338.3 260.5,337.8 261.0,337.4 261.5,337.0 262.0,336.6 262.1,336.5 262.5,335.7 263.0,334.7 263.5,333.7 264.0,332.7 264.5,331.6 264.9,330.8 265.0,330.6 265.5,329.6 266.0,328.6 266.5,327.6 266.8,327.0 267.0,327.4 267.4,328.2 267.5,328.4 268.0,329.4 268.5,330.4 269.0,331.4 269.5,332.4 270.0,333.4 270.3,334.0 270.3,342.0 270.0,344.0 269.5,347.3 269.0,350.6 268.5,353.9 268.0,357.2 267.5,360.5 267.4,361.2 267.0,361.3 266.8,361.4 266.5,361.5 266.0,361.7 265.5,361.9 265.0,362.1 264.9,362.1 264.5,361.7 264.0,361.2 263.5,360.7 263.0,360.2 262.5,359.7 262.1,359.3 262.0,359.3 261.5,358.8 261.0,358.3 260.5,357.8 260.0,357.3 259.5,356.8 259.2,356.5 259.0,356.7 258.5,357.2 258.0,357.7 257.5,358.2 257.0,358.7 256.5,359.2 256.4,359.3 256.0,358.8 255.5,358.1 255.0,357.5 254.5,356.8 254.0,356.2 253.5,355.5 253.0,352.4 252.5,349.4 252.0,346.3 251.6,343.9 251.5,343.3 251.0,340.2 250.7,338.4 250.5,338.7 250.0,339.7 249.5,340.7 249.0,341.7 248.5,342.7 248.4,342.9 248.0,343.7 247.8,344.1 247.5,345.4 247.0,352.1 246.5,358.9 246.0,365.7 245.5,372.4 245.0,379.2 244.5,371.5 244.0,363.8 243.5,356.1 243.1,350.0 243.0,348.4 242.5,340.8 242.1,334.6 242.0,335.2 241.5,337.9 241.0,340.7 240.5,343.4 240.2,345.1 240.0,344.4 239.5,343.4 239.3,344.1 239.0,344.0 238.5,343.7 238.3,343.6 238.0,343.5 237.5,343.2 237.4,343.2 237.0,343.2 236.5,343.3 236.4,343.3 236.0,343.3 235.5,343.4 235.0,343.4 234.5,343.4 234.2,343.5 234.0,343.5 233.5,343.5 233.0,343.5 232.6,343.6 232.5,343.6 232.0,344.9 231.7,349.8 231.5,347.8 231.0,343.7 230.5,343.7 230.0,343.8 229.8,343.8 229.5,343.8 229.0,343.9 228.8,343.9 228.5,343.9 228.0,343.9 227.5,344.0 227.2,344.0 227.0,344.0 226.5,344.1 226.3,344.1 226.0,344.1 225.5,344.7 225.0,345.3 224.5,345.9 224.0,346.5 223.6,347.0 223.5,347.1 223.0,347.7 222.5,348.3 222.2,348.7 222.0,348.8 221.5,348.9 221.0,349.0 220.5,349.1 220.0,349.3 219.5,349.4 219.0,349.5 218.5,349.7 218.0,349.8 217.5,349.9 217.2,350.0 217.0,350.0 216.5,350.2 216.0,350.3 215.5,350.4 215.0,350.5 214.5,350.6 214.0,350.8 213.5,350.9 213.0,351.0 212.5,351.1 212.4,351.2 212.2,351.2 212.0,351.1 211.5,350.9 211.0,350.6 210.5,350.4 210.0,350.1 209.5,349.9 209.2,349.7 209.0,349.6 208.5,349.4 208.0,349.1 207.5,348.9 207.2,348.7 207.0,349.4 206.5,351.1 206.0,352.8 205.5,354.4 205.0,356.1 204.5,357.8 204.3,358.5 204.0,359.5 203.8,360.2 203.5,361.2 203.0,358.9 202.9,358.4 202.5,356.6 202.0,354.3 201.5,352.0 201.0,349.7 200.5,347.4 200.0,345.1 199.7,343.7 199.5,343.3 199.3,342.9 199.0,342.3 198.5,341.3 198.0,340.3 197.5,339.3 197.2,338.7 197.0,339.0 196.5,339.7 196.0,340.4 195.7,340.8 195.5,341.1 195.0,341.8 194.5,342.5 194.0,343.2 193.5,344.0 193.0,344.7 192.5,345.4 192.0,346.1 191.5,346.8 191.0,347.5 190.5,348.1 190.3,348.3 190.0,348.7 189.5,349.3 189.0,349.9 188.5,350.5 188.0,351.1 187.6,351.5 187.5,351.7 187.0,352.3 186.5,352.9 186.0,353.5 185.8,353.7 185.5,354.0 185.4,354.2 185.0,354.6 184.7,355.0 184.5,354.8 184.0,354.5 183.5,354.1 183.0,353.7 182.6,353.4 182.5,353.3 182.0,352.9 181.5,352.6 181.0,352.2 180.5,351.8 180.0,351.4 179.7,351.2 179.5,351.5 179.0,352.3 178.5,353.1 178.0,353.9 177.5,354.7 177.0,355.6 176.8,355.9 176.5,356.4 176.0,357.2 175.5,358.0 175.0,358.8 174.5,359.6 174.1,360.2 174.0,360.4 173.6,361.0 173.5,361.2 173.0,360.5 172.5,359.9 172.0,359.2 171.5,358.5 171.4,358.4 171.0,357.9 170.5,357.2 170.0,356.5 169.5,355.9 169.0,355.2 168.7,354.8 168.5,354.5 168.2,354.1 168.0,353.9 167.5,353.2 167.0,352.5 166.5,351.9 166.0,351.2 165.5,350.4 165.0,349.5 164.6,348.9 164.5,348.7 164.0,347.9 163.5,347.0 163.2,346.5 163.0,346.2 162.5,347.0 162.0,347.8 161.7,348.3 161.5,348.6 161.0,349.4 160.5,350.2 160.3,350.5 160.0,351.0 159.5,351.8 159.0,352.6 158.5,353.4 158.1,354.0 158.0,354.2 157.5,355.0 157.4,354.9 157.0,354.5 156.6,354.1 156.5,354.0 156.0,353.5 155.6,353.1 155.5,353.0 155.3,352.8 155.0,352.5 154.5,352.0 154.0,351.5 153.5,351.0 153.1,350.6 153.0,350.5 152.5,350.0 152.4,349.9 152.0,349.5 151.5,349.0 151.0,348.5 150.9,348.4 150.5,348.0 150.2,347.7 150.0,347.5 149.5,346.8 149.0,346.1 148.5,345.7 148.0,348.3 147.5,351.0 147.3,352.0 147.0,352.5 146.5,353.4 146.2,354.0 146.0,354.3 145.9,354.5 145.5,355.2 145.0,356.1 144.5,357.0 144.0,357.9 143.7,358.4 143.5,356.9 143.0,353.2 142.5,349.5 142.0,345.8 141.5,342.2 141.0,342.7 140.8,342.9 140.5,343.2 140.3,343.4 140.0,343.7 139.5,344.2 139.4,344.3 139.0,344.7 138.6,345.1 138.5,345.2 138.0,345.7 137.5,346.2 137.0,345.7 136.5,345.2 136.0,344.7 135.8,344.5 135.5,344.2 135.0,343.7 134.8,343.5 134.5,343.2 134.0,342.7 133.6,342.3 133.5,342.2 133.4,342.1 133.0,341.7 132.5,341.2 132.0,341.7 131.5,342.2 131.0,342.8 130.5,344.3 130.0,345.9 129.5,347.5 129.0,349.0 128.5,350.6 128.0,352.1 127.6,353.4 127.5,353.1 127.0,351.4 126.5,349.8 126.4,349.5 126.2,348.8 126.0,348.2 125.5,346.9 125.0,346.5 124.5,346.1 124.3,346.0 124.0,345.7 123.5,347.3 123.0,350.3 122.5,353.2 122.1,355.6 122.0,354.9 121.5,351.4 121.0,347.9 120.5,344.5 120.0,342.5 119.5,342.3 119.2,342.2 119.0,342.2 118.5,342.0 118.0,341.8 117.5,341.6 117.0,341.5 116.5,341.3 116.3,341.2 116.2,341.2 116.0,341.9 115.5,344.1 115.0,346.3 114.5,348.5 114.2,349.8 114.0,349.0 113.8,348.3 113.5,347.1 113.0,345.2 112.5,343.3 112.0,341.4 111.5,339.5 111.3,338.8 111.2,338.7 111.0,339.1 110.6,339.9 110.5,340.1 110.0,341.1 109.5,342.1 109.0,343.1 108.9,343.3 108.5,344.1 108.4,344.3 108.0,345.1 107.5,346.1 107.0,347.1 106.5,348.1 106.2,348.7 106.0,348.4 105.5,347.6 105.0,346.9 104.5,346.1 104.0,345.4 103.5,344.6 103.0,343.9 102.7,343.4 102.5,343.1 102.0,342.4 101.5,343.3 101.2,345.6 101.0,347.2 100.5,351.1 100.2,353.4 100.0,351.8 99.5,348.0 99.0,344.1 98.5,340.2 98.0,336.9 97.6,336.3 97.5,336.2 97.0,337.8 96.5,341.7 96.0,345.6 95.5,349.4 95.0,353.3 94.7,355.6 94.5,355.0 94.0,353.6 93.7,352.7 93.5,352.2 93.0,350.7 92.5,349.3 92.0,347.9 91.5,346.4 91.0,345.0 90.5,343.6 90.4,343.3 90.0,341.5 89.5,339.2 89.0,336.9 88.5,334.6 88.2,333.2 88.0,330.9 87.5,326.0 87.0,323.7 86.5,321.4 86.2,320.0 86.1,320.2 86.0,320.4 85.5,321.4 85.0,322.4 84.5,323.4 84.0,324.5 83.9,324.7 83.5,325.5 83.0,326.5 82.5,327.5 82.0,328.4 81.5,329.4 81.0,330.3 80.5,331.2 80.0,332.2 79.5,333.1 79.0,334.1 78.5,335.0" fill="#2e71a7"/>
<polyline points="78.5,300.8 81.0,307.3 84.0,303.7 86.1,308.7 88.2,333.2 90.4,343.3 94.7,355.6 97.6,333.2 100.2,353.4 102.7,334.0 106.0,331.0 108.4,340.4 110.6,336.1 114.2,349.8 117.0,337.5 119.2,335.4 122.1,355.6 124.3,342.6 127.6,353.4 131.5,341.2 133.6,333.2 134.8,317.0 138.6,316.8 139.4,322.0 140.3,333.2 143.7,358.4 147.3,352.0 150.9,333.2 152.4,325.3 155.6,324.0 156.6,315.5 158.1,310.9 160.3,313.0 161.7,327.5 163.2,339.7 164.6,328.9 166.0,321.5 168.2,328.6 171.4,335.8 173.6,319.6 175.0,317.8 176.8,334.0 180.0,350.2 184.0,334.0 185.8,324.1 187.6,308.8 190.3,298.0 193.0,300.7 195.7,312.4 197.0,316.0 199.3,328.6 202.0,336.7 202.9,325.0 204.3,310.6 206.5,316.9 209.2,307.9 212.4,325.9 215.5,314.2 220.0,302.5 223.6,267.4 226.3,289.0 228.8,320.4 231.7,349.8 234.2,309.0 236.4,328.0 238.3,338.4 240.2,345.1 242.1,334.6 245.0,379.2 247.8,341.3 250.7,338.4 253.5,355.5 256.4,359.3 259.2,356.5 264.9,362.1 267.4,361.2 270.3,342.0" fill="none" stroke="#000" stroke-width="1.1" stroke-linejoin="round"/>
<polyline points="78.5,280.3 81.0,284.7 83.7,283.0 87.0,284.5 89.2,284.7 92.0,280.5 94.2,280.5 95.6,284.5 97.5,302.5 99.7,289.1 102.4,290.4 105.2,290.2 108.5,281.6 111.0,286.0 114.0,269.9 116.5,279.8 119.5,261.8 122.2,279.2 127.5,300.1 130.5,291.9 135.4,299.0 138.7,299.2 141.5,291.9 144.2,302.9 149.5,283.6 155.2,300.7 158.0,295.7 163.5,269.9 166.0,284.7 168.7,268.3 171.4,278.2 174.1,281.8 177.7,290.8 182.2,271.0 184.9,273.7 188.0,284.5 190.7,273.7 193.0,280.9 195.7,285.4 198.8,278.2 202.0,282.7 204.7,284.5 207.0,289.9 209.2,306.1 212.4,316.9 214.6,304.3 218.2,300.7 220.0,285.4 222.7,280.9 226.3,272.8 229.0,289.9 231.2,281.8 234.0,291.7 237.6,307.0 239.8,302.5 242.5,291.7 247.0,298.9 250.0,289.1 253.3,296.8 258.8,273.7 263.2,270.0 267.6,274.8 270.3,283.6 272.7,301.2 277.5,281.4 280.8,279.7 283.7,290.2 286.3,270.8 289.2,281.4 292.9,299.0 296.9,303.4 302.8,279.7 305.0,280.3 308.3,284.7 311.2,281.4 314.3,264.2 316.7,264.2 319.3,281.4 321.5,280.3 324.8,263.8 327.0,284.7 332.5,295.7 334.7,294.2 338.0,298.6 340.7,296.8 344.2,288.0 346.9,289.1 350.2,281.4 353.0,266.0 357.9,267.1 362.3,289.1 365.6,275.9 368.4,248.5 371.1,270.4 373.7,272.2 376.6,268.2 379.9,279.2 384.4,287.1 389.9,273.0 393.2,277.4 395.8,268.6 398.7,278.9 401.6,273.9 407.5,282.7 409.7,282.7 412.6,288.4 416.3,280.5 419.6,277.4 426.2,265.1 429.5,251.9 432.8,247.0 436.8,242.2 439.4,245.9 442.7,232.7 444.9,237.1 447.8,253.6 450.4,264.2 453.1,263.5 455.9,271.2 458.8,271.7 461.4,267.9 466.9,278.3 470.2,270.1 472.4,269.0 476.9,271.2 481.3,270.1 483.5,258.0 486.8,270.1 489.4,266.4 491.8,258.5 494.5,259.8 497.8,252.5 500.6,251.0 502.8,253.2 505.9,245.9 508.1,251.4 511.4,237.5 516.2,253.7 521.2,248.7 527.0,253.0 531.2,243.7 537.5,244.5 540.5,240.5 543.7,238.7 549.5,211.2 552.5,216.2 555.0,224.5 557.5,224.5 560.0,232.5 563.0,221.2 565.5,221.2 568.7,208.7 572.0,213.7 576.2,228.7 580.0,230.0 584.5,239.5 587.0,233.7 590.5,208.7 593.0,202.5 596.2,171.2 598.7,215.0 603.7,192.5 607.5,197.0 610.0,196.2 614.5,202.0 618.0,187.0 623.7,220.0 626.2,198.7 628.7,198.7 631.7,214.5 634.2,209.5 637.0,186.2 639.5,222.0 642.0,183.7 644.5,186.2 648.0,180.5 650.5,202.5 653.0,185.0 656.2,218.7 658.7,217.5 662.0,222.5 665.0,212.5 669.5,189.5 673.0,199.5 675.5,201.2 678.7,192.0 682.5,195.0 686.2,159.5 691.2,167.5 693.7,183.7 697.0,186.2 700.0,167.5 702.5,142.5 705.5,172.5 708.7,182.0 713.7,163.7 715.7,172.5 719.2,153.0 722.0,180.0 725.0,189.5 727.5,187.0 730.0,193.7 733.7,170.0 735.7,168.7 738.2,183.7 740.7,170.0 743.7,192.5 747.0,197.0 749.5,207.0 753.7,202.5 757.5,206.2 760.0,205.0 763.0,183.7 765.5,187.5 768.2,180.0 770.5,187.0 773.7,203.7 776.7,188.7 779.2,192.0 782.0,188.7 786.2,194.5 790.0,207.0 792.5,207.5 795.5,210.5 798.7,195.0 801.2,206.2 803.7,192.0 806.7,193.0 809.5,211.2 812.5,193.0 816.2,205.0 820.0,213.7 822.5,214.5 825.5,207.5 828.7,195.5 831.2,194.5 834.2,175.5 837.0,178.7 840.0,198.7 842.5,203.7 845.5,192.5 850.0,199.5 853.2,173.0 856.2,207.5 858.7,201.2 861.5,176.2 864.5,197.5 867.5,208.0 870.0,212.5 872.5,212.0 876.2,216.2 879.5,211.2 883.0,228.7 886.2,227.0 888.7,227.5 892.5,218.7 897.0,206.2 899.5,218.7 902.5,222.0 905.5,213.7 908.0,222.5 910.5,225.0 913.2,207.5 916.2,224.5 918.7,225.0 921.7,215.0 924.2,222.5 927.0,253.7 930.0,247.5 932.5,253.0 935.5,220.0 940.0,227.5 943.7,237.0 946.7,215.0 949.5,228.7 952.0,231.2 955.0,246.2 960.0,245.0 962.5,252.5 965.5,238.7 968.0,239.5 971.2,252.5 973.7,248.7 976.2,255.5 979.5,236.2 982.0,246.2 985.0,250.0 987.5,255.1 993.0,250.5 998.0,262.1 1001.4,253.0 1003.5,256.8 1006.4,248.0 1009.2,254.7 1011.9,255.8 1014.8,260.0 1019.7,258.5 1023.4,276.8 1026.0,273.2 1030.2,266.3 1034.4,269.8 1037.5,267.7 1041.7,268.4 1044.9,272.6 1047.6,262.1 1052.2,271.5 1056.0,283.7 1058.9,263.1 1061.7,268.4 1064.4,279.5 1066.9,277.8 1069.7,266.3 1072.8,274.7 1075.5,275.7" fill="none" stroke="#ff0000" stroke-width="0.85" stroke-dasharray="2.2,1.0"/>
<polyline points="78.5,335.0 82.5,327.5 86.2,320.0 90.0,337.5 93.7,341.2 97.5,336.2 101.2,341.2 106.2,348.7 111.2,338.7 116.2,341.2 120.0,342.5 126.2,347.5 132.5,341.2 137.5,346.2 142.5,341.2 146.2,342.0 150.0,347.5 157.5,355.0 163.0,346.2 166.0,351.2 173.5,361.2 179.7,351.2 184.7,355.0 191.0,347.5 197.2,338.7 199.7,343.7 203.5,361.2 207.2,348.7 212.2,351.2 217.2,350.0 222.2,348.7 226.0,344.1 237.4,343.2 239.3,344.1 242.1,334.6 245.0,340.3 247.8,344.1 251.6,336.5 256.4,341.3 262.1,336.5 266.8,327.0 270.6,334.6 274.4,343.2 277.6,351.7 281.1,337.5 283.0,344.1 285.8,339.4 287.7,342.2 291.5,331.8 293.4,341.3 297.2,340.3 302.9,355.5 307.6,347.0 311.4,334.6 316.0,330.9 321.5,326.5 324.8,329.8 328.1,329.8 332.5,333.1 334.7,330.9 340.2,335.3 344.2,327.6 346.9,334.7 351.3,325.4 355.7,321.0 361.2,319.9 365.6,311.1 368.9,315.5 371.5,314.0 375.9,326.5 380.0,321.9 384.4,327.4 390.6,315.2 395.4,317.0 401.6,326.7 404.7,327.4 407.5,320.8 409.1,321.9 412.6,312.6 416.3,313.5 420.7,304.2 422.9,311.3 426.2,298.7 428.9,294.3 432.4,296.5 435.0,300.9 440.5,303.8 444.9,302.5 447.8,309.7 450.4,311.9 453.7,306.4 458.1,302.5 465.8,301.6 469.8,304.7 473.5,299.4 476.9,300.3 483.5,294.3 486.1,302.5 489.4,295.0 491.2,293.7 494.5,298.7 500.0,294.3 502.8,296.5 507.7,283.3 510.0,286.2 513.0,290.0 516.2,285.5 518.0,287.5 522.0,283.7 526.2,289.5 532.5,287.0 537.5,280.5 542.5,278.0 546.2,275.5 549.5,281.2 554.5,272.0 557.5,277.0 563.0,269.5 566.2,272.5 570.0,270.0 573.7,277.0 578.7,265.5 583.7,269.5 590.0,266.2 595.0,268.0 600.0,260.0 603.7,252.5 607.5,260.5 613.0,257.5 617.5,254.5 621.2,257.5 623.7,255.0 627.0,259.5 631.2,257.5 635.0,252.0 638.7,255.0 643.0,250.0 646.2,248.0 651.2,248.0 657.5,250.0 662.5,248.0 669.5,242.5 673.7,244.5 676.2,243.0 681.2,245.5 689.2,240.0 693.0,245.0 700.0,238.7 702.5,240.5 705.5,242.5 710.0,233.7 713.7,235.5 716.2,234.5 718.7,236.2 723.7,232.5 727.5,226.2 730.5,236.2 733.7,240.0 737.5,234.5 741.2,242.0 746.2,239.5 750.0,242.0 752.5,237.0 756.2,241.2 759.5,237.5 763.7,242.5 768.0,244.5 771.0,240.5 776.2,237.5 781.2,234.5 785.0,238.7 789.5,237.0 793.7,243.7 798.0,247.5 801.2,240.0 804.5,247.5 807.5,248.0 809.5,251.2 812.5,240.5 816.2,240.0 820.0,246.2 823.7,248.0 826.2,247.0 828.7,238.7 834.2,256.2 837.5,251.2 840.5,246.2 846.2,247.0 851.2,248.7 856.2,253.0 861.2,258.0 864.5,255.5 868.0,258.0 873.0,255.5 875.5,252.5 878.0,263.7 882.0,263.7 885.5,272.5 888.0,274.5 891.7,265.5 894.2,264.5 897.5,273.0 900.0,276.0 902.0,275.0 905.0,280.5 910.0,283.7 913.7,272.5 917.5,272.5 922.5,280.0 927.5,287.5 932.5,283.7 937.0,282.0 940.5,285.0 943.7,290.5 946.2,286.2 949.5,298.7 952.0,293.7 955.5,300.0 958.7,297.5 960.5,300.0 962.5,296.2 965.0,301.2 967.5,301.2 971.2,314.5 973.7,307.5 976.2,298.7 979.5,310.0 982.5,323.7 985.0,316.0 987.5,308.9 989.6,316.7 993.0,308.9 998.7,320.9 1001.4,318.8 1006.4,329.3 1011.9,312.5 1015.5,313.5 1019.7,320.9 1023.2,337.1 1026.0,337.1 1031.2,331.4 1033.7,325.1 1036.5,331.4 1039.6,334.5 1042.8,325.1 1044.9,324.5 1048.0,327.8 1053.3,331.4 1059.6,325.7 1064.4,318.8 1066.9,317.7 1071.1,324.0 1075.5,326.1" fill="none" stroke="#add8e6" stroke-width="1.3" stroke-dasharray="4.6,2.0"/>
<polyline points="78.5,300.8 83.9,300.8 86.1,303.7 89.0,310.9 94.7,308.7 97.6,318.1 100.5,307.3 105.5,310.2 108.9,316.7 111.3,310.9 113.8,313.0 116.3,310.2 119.2,310.2 122.1,325.3 126.4,323.9 130.5,331.8 133.4,313.8 135.8,324.6 140.8,323.9 143.7,328.9 145.9,331.8 150.2,330.3 153.1,323.1 155.3,323.9 157.4,331.1 161.7,333.2 166.0,320.8 168.7,324.1 171.4,316.0 174.1,307.9 176.8,316.9 179.5,317.8 182.6,329.5 185.4,324.1 190.3,324.1 193.0,316.9 195.7,316.0 199.3,318.7 203.8,325.0 207.0,324.1 211.0,331.3 215.5,335.8 220.0,333.1 223.6,323.2 227.2,320.5 229.8,320.4 232.6,325.1 234.5,323.2 237.4,328.0 240.2,324.2 243.1,325.1 245.0,320.4 248.4,328.0 250.7,320.4 253.5,320.4 256.4,317.5 259.2,323.2 262.1,318.5 264.5,299.5 267.4,308.0 270.0,308.0 272.9,318.5 278.2,323.8 283.9,317.5 288.7,317.5 294.3,324.2 300.0,329.9 302.9,322.3 305.4,326.1 308.6,322.3 312.4,320.4 316.0,314.4 318.2,316.6 323.7,308.9 327.0,313.3 330.3,314.0 333.2,319.9 338.0,314.0 342.0,319.9 344.2,319.9 346.9,311.1 351.3,311.1 355.2,301.2 360.1,307.8 362.7,305.6 366.0,294.6 370.0,295.1 374.4,302.3 379.4,311.8 381.8,304.7 387.7,304.2 389.9,300.3 392.8,302.5 395.4,299.8 398.7,306.0 401.4,301.6 404.2,303.6 407.5,302.5 409.7,299.4 413.0,303.1 415.7,303.6 418.5,296.5 420.7,293.7 423.6,285.5 426.2,282.2 428.9,281.1 431.7,274.5 435.0,278.9 439.0,283.3 442.7,284.4 445.6,288.8 448.2,294.3 451.5,290.6 456.6,290.6 458.8,281.8 461.4,284.9 464.7,285.5 467.4,290.6 470.7,287.7 473.5,288.8 475.7,290.6 479.5,288.8 483.5,281.8 486.3,284.0 489.6,280.5 492.3,278.3 494.5,274.5 500.0,274.5 502.8,271.2 505.9,274.5 510.0,271.2 513.7,265.0 516.2,269.5 518.7,264.5 522.0,264.5 525.0,273.7 527.5,268.7 530.0,271.2 535.0,262.0 538.0,264.5 541.2,258.7 543.7,258.0 547.0,267.0 549.5,263.7 552.5,255.0 556.2,257.5 560.0,255.0 563.0,257.5 565.5,253.0 568.7,245.0 571.2,253.7 576.2,258.0 579.5,255.5 582.5,258.0 587.5,258.0 593.7,251.2 596.2,252.0 598.7,248.7 604.5,246.2 606.2,238.0 608.7,245.0 612.0,242.5 615.0,248.0 618.0,237.5 620.0,243.7 626.2,236.2 629.5,241.2 637.5,241.2 640.0,242.7 642.5,233.7 645.0,228.7 648.0,233.0 653.0,229.5 656.2,238.0 658.7,234.5 662.0,238.0 664.5,236.2 667.0,237.5 672.0,231.2 675.5,231.2 678.2,228.0 681.2,231.2 685.7,230.5 689.2,225.0 692.0,231.2 695.0,228.7 698.0,228.0 702.5,222.0 705.5,212.0 708.0,223.7 711.2,215.0 715.7,206.2 718.7,208.0 722.0,217.0 725.0,221.2 728.0,218.7 732.0,224.5 735.0,222.0 738.7,223.0 741.2,223.7 743.7,220.0 747.0,225.5 751.2,228.0 757.5,233.0 760.0,230.5 763.0,221.2 767.5,222.0 770.5,225.0 773.0,225.0 776.7,216.2 781.2,215.5 785.0,225.0 790.5,228.0 793.7,228.7 795.5,231.2 798.2,223.7 801.2,226.2 803.7,226.2 807.0,228.7 810.0,226.2 815.0,225.0 821.2,232.5 825.5,228.7 828.7,228.0 831.2,225.5 835.5,233.7 838.7,235.0 842.0,240.0 845.0,233.0 849.5,235.5 856.2,241.2 858.7,241.2 861.7,238.0 864.5,240.5 867.5,233.7 870.0,232.0 873.0,243.0 876.2,241.2 878.2,237.0 881.2,243.0 883.7,247.0 886.7,246.2 890.0,248.7 894.2,248.0 897.0,247.0 899.5,253.7 902.5,243.7 906.2,251.2 910.5,254.5 913.7,244.5 916.2,242.0 920.0,255.5 923.7,263.0 927.5,267.0 930.0,266.2 933.0,261.2 937.5,266.2 940.7,258.7 943.7,264.5 947.0,271.2 950.0,274.5 956.2,273.0 960.0,281.2 965.0,288.0 968.0,279.5 971.2,283.7 973.7,273.7 977.0,283.7 981.2,284.5 985.0,288.3 987.5,291.5 990.3,284.5 993.0,290.0 995.5,290.4 998.7,298.8 1001.4,290.4 1003.9,278.2 1006.4,287.3 1011.9,287.3 1014.8,283.1 1017.6,290.4 1020.3,297.8 1023.2,302.6 1026.0,304.1 1028.7,308.3 1031.2,302.6 1033.7,303.0 1037.1,305.5 1040.0,307.2 1042.8,306.8 1045.5,304.1 1048.0,304.7 1050.5,302.0 1053.3,307.2 1056.0,307.2 1058.5,295.0 1061.7,295.7 1064.4,299.9 1066.9,310.4 1069.7,300.5 1072.8,300.5 1075.5,294.2" fill="none" stroke="#000" stroke-width="3.0" stroke-linejoin="round"/>
</g>
<rect x="78.5" y="60.5" width="997.0" height="385.0" fill="none" stroke="#000" stroke-width="1.1"/>
<line x1="78.5" y1="445.5" x2="78.5" y2="450.0" stroke="#000" stroke-width="1.1"/>
<line x1="163.5" y1="445.5" x2="163.5" y2="450.0" stroke="#000" stroke-width="1.1"/>
<line x1="240.5" y1="445.5" x2="240.5" y2="450.0" stroke="#000" stroke-width="1.1"/>
<line x1="325.5" y1="445.5" x2="325.5" y2="450.0" stroke="#000" stroke-width="1.1"/>
<line x1="407.5" y1="445.5" x2="407.5" y2="450.0" stroke="#000" stroke-width="1.1"/>
<line x1="492.5" y1="445.5" x2="492.5" y2="450.0" stroke="#000" stroke-width="1.1"/>
<line x1="574.5" y1="445.5" x2="574.5" y2="450.0" stroke="#000" stroke-width="1.1"/>
<line x1="659.5" y1="445.5" x2="659.5" y2="450.0" stroke="#000" stroke-width="1.1"/>
<line x1="744.5" y1="445.5" x2="744.5" y2="450.0" stroke="#000" stroke-width="1.1"/>
<line x1="826.5" y1="445.5" x2="826.5" y2="450.0" stroke="#000" stroke-width="1.1"/>
<line x1="911.5" y1="445.5" x2="911.5" y2="450.0" stroke="#000" stroke-width="1.1"/>
<line x1="993.5" y1="445.5" x2="993.5" y2="450.0" stroke="#000" stroke-width="1.1"/>
<line x1="73.5" y1="140.5" x2="78.5" y2="140.5" stroke="#000" stroke-width="1.1"/>
<line x1="73.5" y1="222.5" x2="78.5" y2="222.5" stroke="#000" stroke-width="1.1"/>
<line x1="73.5" y1="304.5" x2="78.5" y2="304.5" stroke="#000" stroke-width="1.1"/>
<line x1="73.5" y1="386.5" x2="78.5" y2="386.5" stroke="#000" stroke-width="1.1"/>
<rect x="185.5" y="476.5" width="783" height="40" rx="2.8" fill="#fff" fill-opacity="0.8" stroke="#ccc" stroke-width="1"/>
<line x1="192" y1="491.5" x2="224.5" y2="491.5" stroke="#ff0000" stroke-width="0.85" stroke-dasharray="2.2,1.0"/>
<line x1="370.7" y1="491.5" x2="403.5" y2="491.5" stroke="#add8e6" stroke-width="1.3" stroke-dasharray="4.6,2.0"/>
<line x1="537.2" y1="491.5" x2="572.8" y2="491.5" stroke="#000" stroke-width="3.0"/>
<line x1="799" y1="491.5" x2="832.6" y2="491.5" stroke="#000" stroke-width="1.1"/>
</svg>
<div class="t" style="left:358.6px;top:11.5px;font-size:24.6px;color:#2f71a6;transform:scale(1.082,1.030);letter-spacing:0.75px;">Temperatura Media diaria - Agaete</div>
<div class="t" style="left:49.5px;top:39.6px;font-size:18.0px;color:#000;transform:scale(0.900,1.000);letter-spacing:0.00px;">°C</div>
<div class="t" style="left:83.0px;top:39.6px;font-size:18.0px;color:#000;transform:scale(1.013,1.000);letter-spacing:0.40px;">Última temp: 2026-03-12</div>
<div class="t" style="left:89.6px;top:66.0px;font-size:22.0px;color:#2f71a6;transform:scale(1.012,1.040);letter-spacing:0.00px;">WWW.EMBALSES.NET</div>
<div class="t" style="left:45.6px;top:130.9px;font-size:19.6px;color:#000;transform:scale(1.000,1.000);letter-spacing:0.00px;">30</div>
<div class="t" style="left:45.6px;top:212.9px;font-size:19.6px;color:#000;transform:scale(1.000,1.000);letter-spacing:0.00px;">25</div>
<div class="t" style="left:45.6px;top:294.9px;font-size:19.6px;color:#000;transform:scale(1.000,1.000);letter-spacing:0.00px;">20</div>
<div class="t" style="left:45.6px;top:376.9px;font-size:19.6px;color:#000;transform:scale(1.000,1.000);letter-spacing:0.00px;">15</div>
<div class="t" style="left:63.0px;top:454.9px;font-size:17.0px;color:#000;transform:scale(1.000,1.000);letter-spacing:0.00px;">Ene</div>
<div class="t" style="left:149.5px;top:454.9px;font-size:17.0px;color:#000;transform:scale(1.000,1.000);letter-spacing:0.00px;">Feb</div>
<div class="t" style="left:225.3px;top:454.9px;font-size:17.0px;color:#000;transform:scale(1.000,1.000);letter-spacing:0.00px;">Mar</div>
<div class="t" style="left:311.0px;top:454.9px;font-size:17.0px;color:#000;transform:scale(1.000,1.000);letter-spacing:0.00px;">Abr</div>
<div class="t" style="left:391.2px;top:454.9px;font-size:17.0px;color:#000;transform:scale(1.000,1.000);letter-spacing:0.00px;">May</div>
<div class="t" style="left:477.5px;top:454.9px;font-size:17.0px;color:#000;transform:scale(1.000,1.000);letter-spacing:0.00px;">Jun</div>
<div class="t" style="left:563.0px;top:454.9px;font-size:17.0px;color:#000;transform:scale(1.000,1.000);letter-spacing:0.00px;">Jul</div>
<div class="t" style="left:642.5px;top:454.9px;font-size:17.0px;color:#000;transform:scale(1.000,1.000);letter-spacing:0.00px;">Ago</div>
<div class="t" style="left:728.0px;top:454.9px;font-size:17.0px;color:#000;transform:scale(1.000,1.000);letter-spacing:0.00px;">Sep</div>
<div class="t" style="left:813.0px;top:454.9px;font-size:17.0px;color:#000;transform:scale(1.000,1.000);letter-spacing:0.00px;">Oct</div>
<div class="t" style="left:895.5px;top:454.9px;font-size:17.0px;color:#000;transform:scale(1.000,1.000);letter-spacing:0.00px;">Nov</div>
<div class="t" style="left:979.5px;top:454.9px;font-size:17.0px;color:#000;transform:scale(1.000,1.000);letter-spacing:0.00px;">Dic</div>
<div class="t" style="left:239.0px;top:482.5px;font-size:17.5px;color:#000;transform:scale(1.050,1.000);letter-spacing:0.00px;">Percentil 95</div>
<div class="t" style="left:417.0px;top:482.5px;font-size:17.5px;color:#000;transform:scale(1.050,1.000);letter-spacing:0.00px;">Percentil 5</div>
<div class="t" style="left:583.7px;top:482.5px;font-size:17.5px;color:#000;transform:scale(1.052,1.000);letter-spacing:0.00px;">Temperatura Mediana</div>
<div class="t" style="left:845.7px;top:482.5px;font-size:17.5px;color:#000;transform:scale(1.050,1.000);letter-spacing:0.00px;">T. Media 2026</div>
</body></html>
